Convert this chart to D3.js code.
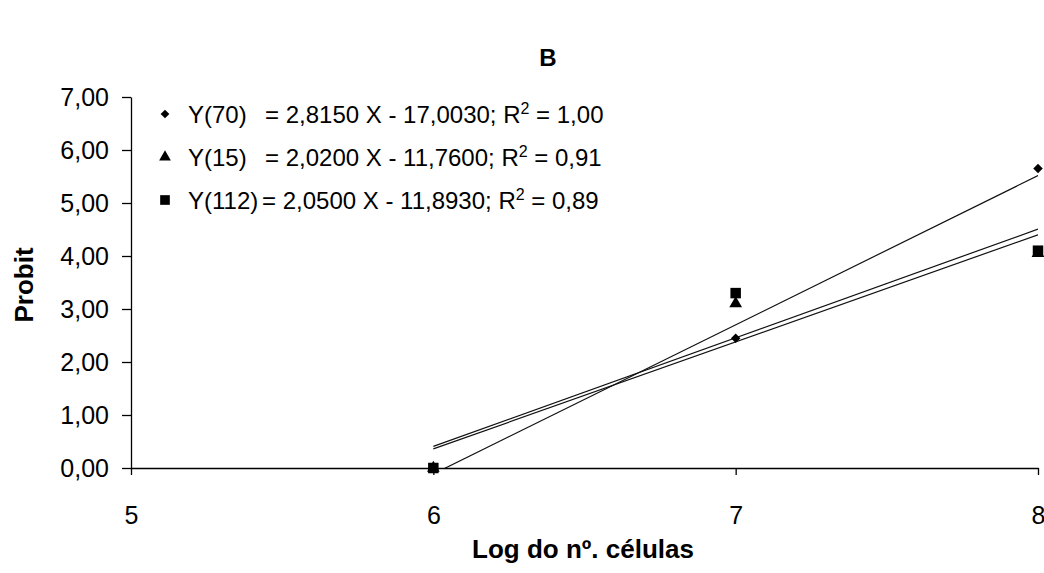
<!DOCTYPE html>
<html>
<head>
<meta charset="utf-8">
<script src="https://cdn.jsdelivr.net/npm/d3@7"></script>
<style>
  body { margin: 0; background: #fff; }
  text { font-family: Arial, "Liberation Sans", sans-serif; fill: #000; }
</style>
</head>
<body>
<svg id="chart" width="1044" height="573"></svg>
<script>
// data
var xValues = [6, 7, 8]
var y70 = [0, 2.45, 5.65]
var y15 = [0, 3.10, 4.05]
var y112 = [0, 3.30, 4.10]

var seriesNames = ['Y(70)', 'Y(15)', 'Y(112)']
var slopes = [2.815, 2.02, 2.05]
var intercepts = [-17.003, -11.76, -11.893]
var eqLabels = ['= 2,8150 X - 17,0030; R', '= 2,0200 X - 11,7600; R', '= 2,0500 X - 11,8930; R']
var r2Labels = [' = 1,00', ' = 0,91', ' = 0,89']
// the diamond is a square turned 45 degrees
var symbols = [d3.symbolSquare, d3.symbolTriangle, d3.symbolSquare]
var symRotate = [45, 0, 0]
var symSizes = [45, 70, 110]

var xTicks = [5, 6, 7, 8]
var yTicks = [0, 1, 2, 3, 4, 5, 6, 7]

var svg = d3.select('#chart')
var margin = { top: 97, left: 131, bottom: 105, right: 6 }
var width = +svg.attr('width'), height = +svg.attr('height')

var x = d3.scaleLinear().domain([5, 8]).range([margin.left, width - margin.right])
var y = d3.scaleLinear().domain([0, 7]).range([height - margin.bottom, margin.top])

var comma = v => d3.format('.2f')(v).replace('.', ',')

// axes
var yAxis = svg.append('g')
    .attr('transform', `translate(${margin.left},0)`)
    .call(d3.axisLeft(y).tickValues(yTicks).tickFormat(comma).tickSize(9).tickSizeOuter(0).tickPadding(13))
yAxis.select('.domain').attr('stroke', '#000').attr('stroke-width', 1.3)
yAxis.selectAll('.tick line').attr('stroke', '#000').attr('stroke-width', 1.3)
yAxis.selectAll('text').style('font-size', '25px').attr('font-family', null)

var xAxis = svg.append('g')
    .attr('transform', `translate(0,${y(0)})`)
    .call(d3.axisBottom(x).tickValues(xTicks).tickFormat(d3.format('d')).tickSize(7).tickSizeOuter(0).tickPadding(31))
xAxis.select('.domain').attr('stroke', '#000').attr('stroke-width', 1.3)
xAxis.selectAll('.tick line').attr('stroke', '#000').attr('stroke-width', 1.3)
xAxis.selectAll('text').style('font-size', '25px').attr('font-family', null)

// trend lines, clipped to the plot area like the original
svg.append('clipPath').attr('id', 'plot')
    .append('rect')
    .attr('x', x(5)).attr('y', y(7))
    .attr('width', x(8) - x(5)).attr('height', y(0) - y(7))

var line = d3.line().x(d => x(d[0])).y(d => y(d[1]))
svg.append('g').attr('clip-path', 'url(#plot)')
    .selectAll('path')
    .data(slopes.map((s, i) => [[6, s * 6 + intercepts[i]], [8, s * 8 + intercepts[i]]]))
    .enter().append('path')
    .attr('d', line)
    .attr('fill', 'none')
    .attr('stroke', '#111')
    .attr('stroke-width', 1.2)

// points
var allSeries = [y70, y15, y112]
allSeries.forEach(function (vals, i) {
    svg.append('g').selectAll('path')
        .data(vals)
        .enter().append('path')
        .attr('transform', (d, j) => `translate(${x(xValues[j])},${y(d)}) rotate(${symRotate[i]})`)
        .attr('d', d3.symbol().type(symbols[i]).size(symSizes[i]))
        .attr('fill', '#000')
})

// legend
var legendY = [114, 157, 200]
var eqX = [265, 265, 262]
var legend = svg.append('g')
seriesNames.forEach(function (name, i) {
    legend.append('path')
        .attr('transform', `translate(165,${legendY[i]}) rotate(${symRotate[i]})`)
        .attr('d', d3.symbol().type(symbols[i]).size(symSizes[i] * 0.85))
    legend.append('text')
        .attr('x', 188).attr('y', legendY[i] + 9)
        .style('font-size', '24px')
        .text(name)
    var t = legend.append('text')
        .attr('x', eqX[i]).attr('y', legendY[i] + 9)
        .style('font-size', '24px')
    t.append('tspan').text(eqLabels[i])
    t.append('tspan').attr('dy', -9).style('font-size', '16px').text('2')
    t.append('tspan').attr('dy', 9).text(r2Labels[i])
})

// titles
svg.append('text')
    .attr('x', 548).attr('y', 66)
    .attr('text-anchor', 'middle')
    .style('font-size', '24px').style('font-weight', 'bold')
    .text('B')

svg.append('text')
    .attr('x', 583).attr('y', 558)
    .attr('text-anchor', 'middle')
    .style('font-size', '26px').style('font-weight', 'bold')
    .text('Log do nº. células')

svg.append('text')
    .attr('transform', 'translate(33,285) rotate(-90)')
    .attr('text-anchor', 'middle')
    .style('font-size', '26px').style('font-weight', 'bold')
    .text('Probit')
</script>
</body>
</html>
